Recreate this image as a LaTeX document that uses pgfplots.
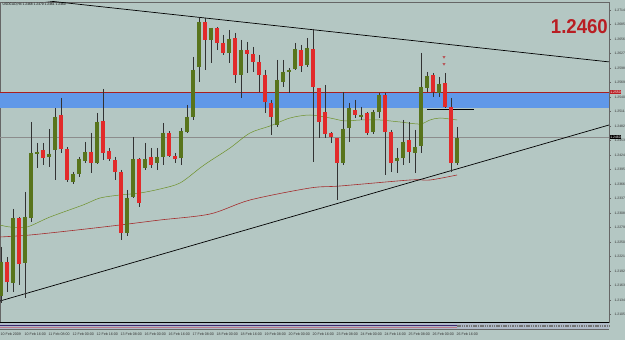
\documentclass[border=0pt]{standalone}
\usepackage{pgfplots}
\pgfplotsset{compat=1.18}
\usepackage{pgfplotstable}
\usepackage{fontspec}
\setmainfont{Liberation Sans}
\definecolor{bg}{RGB}{180,199,195}
\definecolor{bull}{RGB}{88,116,28}
\definecolor{bear}{RGB}{226,42,42}
\definecolor{bullout}{RGB}{30,40,20}
\definecolor{bearout}{RGB}{250,225,225}
\definecolor{zone}{RGB}{96,152,232}
\definecolor{zoneline}{RGB}{170,30,30}
\definecolor{maG}{RGB}{110,145,40}
\definecolor{maR}{RGB}{165,45,45}
\definecolor{bigred}{RGB}{185,30,35}
\definecolor{wick}{RGB}{50,50,50}
\definecolor{stripc}{RGB}{176,186,200}
\definecolor{stripA}{RGB}{60,40,110}
\definecolor{stripB}{RGB}{190,120,140}

% x = pixel column of candle, t/b = body top/bottom, h/l = high/low
\pgfplotstableread{
x t b h l
1 1.2210 1.2142 1.2240 1.2128
13 1.2298 1.2168 1.2316 1.2150
25 1.2300 1.2208 1.2350 1.2138
31 1.2428 1.2298 1.2490 1.2290
37 1.2430 1.2426 1.2448 1.2398
49 1.2426 1.2420 1.2476 1.2400
55 1.2500 1.2434 1.2518 1.2374
73 1.2386 1.2370 1.2390 1.2366
79 1.2416 1.2386 1.2420 1.2380
85 1.2430 1.2412 1.2450 1.2408
97 1.2490 1.2408 1.2508 1.2406
127 1.2338 1.2268 1.2354 1.2262
133 1.2416 1.2340 1.2460 1.2338
145 1.2416 1.2398 1.2448 1.2394
157 1.2420 1.2408 1.2438 1.2394
163 1.2468 1.2420 1.2488 1.2404
181 1.2472 1.2418 1.2478 1.2404
187 1.2500 1.2470 1.2524 1.2468
193 1.2594 1.2500 1.2620 1.2494
199 1.2690 1.2600 1.2698 1.2570
211 1.2678 1.2654 1.2678 1.2608
229 1.2656 1.2628 1.2674 1.2608
241 1.2634 1.2584 1.2654 1.2538
277 1.2574 1.2484 1.2614 1.2480
283 1.2590 1.2570 1.2614 1.2560
289 1.2594 1.2590 1.2598 1.2548
295 1.2636 1.2596 1.2648 1.2594
307 1.2638 1.2604 1.2658 1.2600
343 1.2476 1.2408 1.2550 1.2404
349 1.2518 1.2478 1.2528 1.2450
361 1.2504 1.2500 1.2520 1.2494
373 1.2510 1.2470 1.2514 1.2466
379 1.2544 1.2510 1.2548 1.2498
397 1.2418 1.2412 1.2438 1.2388
403 1.2450 1.2418 1.2494 1.2404
415 1.2440 1.2428 1.2474 1.2388
421 1.2560 1.2442 1.2628 1.2428
427 1.2582 1.2558 1.2590 1.2550
439 1.2566 1.2548 1.2580 1.2540
457 1.2458 1.2408 1.2480 1.2404
}\bulltab

\pgfplotstableread{
x t b h l
7 1.2210 1.2170 1.2220 1.2150
19 1.2298 1.2206 1.2300 1.2164
43 1.2434 1.2418 1.2448 1.2404
61 1.2504 1.2436 1.2538 1.2428
67 1.2436 1.2374 1.2440 1.2370
91 1.2430 1.2408 1.2468 1.2388
103 1.2492 1.2428 1.2556 1.2414
109 1.2432 1.2416 1.2438 1.2412
115 1.2414 1.2390 1.2420 1.2374
121 1.2390 1.2268 1.2394 1.2254
139 1.2416 1.2328 1.2418 1.2320
151 1.2420 1.2404 1.2438 1.2398
169 1.2468 1.2422 1.2472 1.2420
175 1.2422 1.2416 1.2428 1.2408
205 1.2690 1.2654 1.2698 1.2594
217 1.2678 1.2648 1.2680 1.2634
223 1.2648 1.2628 1.2664 1.2624
235 1.2658 1.2584 1.2668 1.2568
247 1.2634 1.2626 1.2650 1.2588
253 1.2626 1.2610 1.2640 1.2590
259 1.2610 1.2584 1.2624 1.2550
265 1.2584 1.2530 1.2594 1.2508
271 1.2528 1.2500 1.2534 1.2464
301 1.2634 1.2602 1.2644 1.2590
313 1.2636 1.2560 1.2676 1.2410
319 1.2558 1.2490 1.2558 1.2458
325 1.2510 1.2466 1.2564 1.2458
331 1.2468 1.2460 1.2470 1.2448
337 1.2458 1.2408 1.2458 1.2334
355 1.2514 1.2504 1.2534 1.2498
367 1.2508 1.2468 1.2510 1.2464
385 1.2544 1.2470 1.2548 1.2384
391 1.2470 1.2408 1.2474 1.2390
409 1.2454 1.2430 1.2490 1.2408
433 1.2584 1.2550 1.2588 1.2540
445 1.2568 1.2520 1.2588 1.2518
451 1.2520 1.2408 1.2538 1.2390
}\beartab

\pgfplotsset{
  candle/.style={draw=none, no markers, forget plot,
    error bars/.cd, y dir=minus, y explicit, error mark=none,
    error bar style={draw=#1}},
}

\begin{document}
\begin{tikzpicture}
\useasboundingbox (0,0) rectangle (625pt,340pt);
\fill[bg] (0,0) rectangle (625pt,340pt);
\begin{axis}[
  at={(0pt,18pt)}, anchor=south west,
  scale only axis, width=609pt, height=320pt,
  xmin=0, xmax=609, ymin=1.2090, ymax=1.2730,
  clip mode=individual,
  axis background/.style={fill=bg},
  axis line style={draw=black!60, line width=0.5pt},
  ytick={1.2105,1.2134,1.2163,1.2192,1.2221,1.2250,1.2279,1.2308,1.2337,1.2366,1.2395,1.2424,1.2453,1.2482,1.2511,1.2540,1.2569,1.2598,1.2627,1.2656,1.2685,1.2714},
  ytick pos=right, yticklabel pos=right,
  yticklabel style={font=\fontsize{3.4}{4}\selectfont, text=black!80,
    /pgf/number format/fixed, /pgf/number format/precision=4,
    /pgf/number format/fixed zerofill, /pgf/number format/assume math mode=true},
  tick align=outside, major tick length=2pt,
  ytick style={draw=black!60, line width=0.3pt},
  xtick={1,25,49,73,97,121,145,169,193,217,241,265,289,313,337,361,385,409,433,457},
  xticklabels={10 Feb 2009,10 Feb 16:00,11 Feb 08:00,12 Feb 00:00,12 Feb 16:00,13 Feb 08:00,16 Feb 00:00,16 Feb 16:00,17 Feb 08:00,18 Feb 00:00,18 Feb 16:00,19 Feb 08:00,20 Feb 00:00,20 Feb 16:00,23 Feb 08:00,24 Feb 00:00,24 Feb 16:00,25 Feb 08:00,26 Feb 00:00,26 Feb 16:00},
  xticklabel style={anchor=north west, inner sep=0pt, yshift=-8.5pt, xshift=-0.5pt, font=\fontsize{3.6}{4}\selectfont, text=black!80},
  xtick style={draw=none},
]
% resistance zone
\addplot[fill=zone, draw=none, forget plot] coordinates {(0,1.2518) (609,1.2518) (609,1.2550) (0,1.2550)} -- cycle;
\addplot[zoneline, line width=0.9pt, forget plot] coordinates {(0,1.2550) (609,1.2550)};
% current price line
\addplot[black!45, line width=0.4pt, forget plot] coordinates {(0,1.2460) (609,1.2460)};
% moving averages
\addplot[maR, line width=0.6pt, smooth, forget plot] coordinates {
(0,1.2260) (30,1.2264) (77,1.2274) (120,1.2284) (160,1.2294) (210,1.2306) (250,1.2334) (310,1.2358) (340,1.2362) (410,1.2374) (430,1.2374) (457,1.2384)};
\addplot[maG, line width=0.5pt, smooth, forget plot] coordinates {
(0,1.2284) (10,1.2280) (27,1.2280) (50,1.2300) (83,1.2324) (100,1.2338) (120,1.2344) (140,1.2348) (160,1.2356) (180,1.2368) (200,1.2398) (210,1.2412) (230,1.2438) (250,1.2468) (270,1.2482) (290,1.2498) (310,1.2504) (330,1.2498) (345,1.2492) (360,1.2494) (380,1.2494) (400,1.2490) (420,1.2486) (430,1.2494) (440,1.2498) (457,1.2494)};
% trend lines
\addplot[black, line width=0.7pt, forget plot] coordinates {(0,1.27426) (609,1.26102)};
\addplot[black, line width=0.7pt, forget plot] coordinates {(0,1.2132) (609,1.2484)};
\addplot[black, line width=0.7pt, forget plot] coordinates {(427,1.2516) (474,1.2516)};
% wicks
\addplot[candle={wick, line width=0.45pt}] table[x=x, y=h, y error minus expr=\thisrow{h}-\thisrow{l}] {\bulltab};
\addplot[candle={wick, line width=0.45pt}] table[x=x, y=h, y error minus expr=\thisrow{h}-\thisrow{l}] {\beartab};
% body outlines
\addplot[candle={bullout, line width=4.2pt}] table[x=x, y=t, y error minus expr=\thisrow{t}-\thisrow{b}] {\bulltab};
\addplot[candle={bearout, line width=4.2pt}] table[x=x, y=t, y error minus expr=\thisrow{t}-\thisrow{b}] {\beartab};
% bodies
\addplot[candle={bull, line width=3.2pt}] table[x=x, y=t, y error minus expr=\thisrow{t}-\thisrow{b}] {\bulltab};
\addplot[candle={bear, line width=3.2pt}] table[x=x, y=t, y error minus expr=\thisrow{t}-\thisrow{b}] {\beartab};
% arrows
\addplot[only marks, mark=triangle, mark size=1.3pt, mark options={rotate=180, draw=bigred, fill=none, line width=0.3pt}, forget plot]
  coordinates {(444,1.2620) (444,1.2606)};
% price boxes on the scale
\node[fill=bigred, text=white, inner sep=0.6pt, anchor=west, font=\fontsize{3.4}{4}\selectfont] at (axis cs:609.5,1.2550) {1.2550};
\node[fill=black, text=white, inner sep=0.6pt, anchor=west, font=\fontsize{3.4}{4}\selectfont] at (axis cs:609.5,1.2460) {1.2460};
\end{axis}
% indicator strip
\fill[stripc] (0,11pt) rectangle (609pt,17.6pt);
\draw[black, line width=0.8pt] (0,18pt) -- (609pt,18pt);
\draw[stripA, line width=0.7pt] (0,15pt) -- (457pt,15pt);
\draw[stripB, line width=0.5pt] (0,13pt) -- (457pt,13pt);
\draw[black!55, line width=1.2pt, dash pattern=on 1.5pt off 0.8pt] (457pt,14pt) -- (609pt,14pt);
\draw[black!60, line width=0.4pt] (0,11pt) -- (609pt,11pt);
% title and big label
\node[anchor=north west, inner sep=0pt, font=\fontsize{3.3}{4}\selectfont] at (2.5pt,337pt) {USDCAD,H4 1.2468 1.2479 1.2461 1.2460};
\node[anchor=east, inner sep=0pt, text=bigred, font=\fontsize{20}{20}\selectfont\bfseries, xscale=0.93] at (608pt,313pt) {1.2460};
\end{tikzpicture}
\end{document}
